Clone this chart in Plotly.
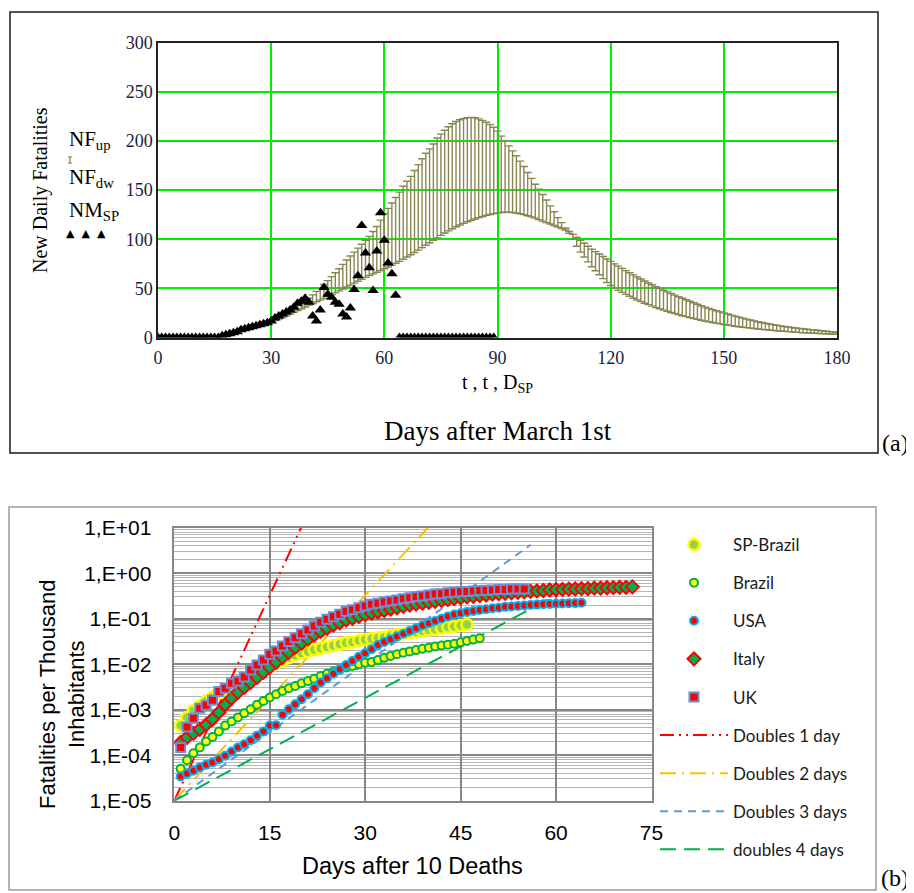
import plotly.graph_objects as go

# The page places the figure 8 px from the window's top-left corner,
# so the figure is sized to the remaining window area and all layout
# positions are given in window pixels and shifted by that offset.
OFF = 8
W, H = 914 - OFF, 893 - OFF


def px_x(p):
    return (p - OFF) / W


def px_y(p):
    return 1 - (p - OFF) / H


# ---------------- Panel (a) data ----------------
t_days = list(range(10, 181))
NF_up = [
    0.3, 0.5, 0.7, 1.0, 1.3, 1.7, 2.2, 2.8, 3.5, 4.3,
    5.1, 6.0, 7.0, 8.0, 9.0, 10.0, 11.1, 12.2, 13.4, 14.7,
    16.0, 17.8, 19.8, 22.0, 24.3, 26.8, 29.5, 32.3, 35.2, 38.0,
    40.0, 43.5, 47.0, 50.5, 54.0, 58.0, 62.0, 66.0, 70.0, 74.5,
    79.0, 83.0, 87.0, 91.0, 95.0, 99.0, 103.0, 108.0, 113.0, 119.5,
    126.0, 131.5, 137.0, 142.5, 148.0, 154.0, 159.0, 164.0, 170.0, 176.0,
    182.0, 187.5, 192.0, 197.0, 203.0, 207.0, 211.0, 214.5, 217.5, 219.8,
    221.6, 222.8, 223.6, 224.0, 223.6, 222.5, 221.0, 219.0, 216.8, 214.0,
    210.0, 205.0, 200.0, 195.0, 190.0, 185.0, 179.5, 174.0, 168.0, 162.0,
    156.0, 151.0, 145.5, 140.0, 134.0, 128.0, 122.0, 117.0, 111.5, 106.0,
    100.0, 93.0, 87.0, 82.0, 77.0, 72.0, 68.0, 64.0, 60.0, 56.0,
    53.0, 50.5, 48.0, 46.0, 44.0, 42.0, 40.0, 38.3, 36.6, 35.0,
    33.5, 32.0, 30.6, 29.3, 28.0, 26.8, 25.6, 24.5, 23.4, 22.3,
    21.3, 20.3, 19.4, 18.5, 17.7, 16.9, 16.1, 15.4, 14.7, 14.0,
    13.4, 12.8, 12.2, 11.6, 11.1, 10.6, 10.1, 9.6, 9.2, 8.8,
    8.4, 8.0, 7.7, 7.3, 7.0, 6.7, 6.4, 6.1, 5.8, 5.5,
    5.3, 5.0, 4.8, 4.6, 4.4, 4.2, 4.0, 3.8, 3.6, 3.5, 3.3,
]
NF_dw = [
    0.3, 0.5, 0.7, 1.0, 1.3, 1.7, 2.2, 2.8, 3.5, 4.3,
    5.1, 6.0, 7.0, 8.0, 9.0, 10.0, 11.1, 12.2, 13.4, 14.7,
    15.8, 17.3, 18.9, 20.5, 22.2, 24.0, 25.8, 27.6, 29.4, 31.2,
    33.0, 34.7, 36.4, 38.1, 39.9, 41.7, 43.6, 45.5, 47.5, 49.5,
    51.4, 53.4, 55.4, 57.4, 59.4, 61.3, 63.1, 64.8, 66.5, 68.2,
    70.0, 71.8, 73.7, 75.6, 77.5, 79.7, 82.0, 84.3, 86.6, 89.0,
    91.5, 94.0, 96.5, 99.0, 101.5, 104.0, 106.4, 108.6, 110.7, 112.7,
    114.5, 116.2, 117.8, 119.3, 120.7, 122.0, 123.2, 124.3, 125.3, 126.1,
    126.8, 127.3, 127.6, 127.6, 127.3, 126.7, 126.0, 125.1, 124.0, 122.8,
    121.5, 120.0, 118.5, 117.0, 115.5, 114.0, 112.5, 111.0, 109.5, 108.0,
    105.0, 102.0, 99.0, 96.0, 93.0, 90.0, 87.5, 85.0, 82.5, 80.0,
    77.5, 75.0, 72.7, 70.4, 68.1, 66.0, 63.8, 61.7, 59.6, 57.6,
    55.6, 53.7, 51.8, 50.0, 48.2, 46.5, 44.8, 43.2, 41.6, 40.0,
    38.5, 37.0, 35.4, 33.9, 32.4, 31.0, 29.7, 28.5, 27.3, 26.2,
    25.2, 24.0, 22.9, 21.8, 20.8, 19.8, 18.8, 17.9, 17.0, 16.2,
    15.4, 14.6, 13.9, 13.2, 12.5, 11.9, 11.3, 10.8, 10.3, 9.8,
    9.3, 8.9, 8.5, 8.1, 7.7, 7.3, 6.9, 6.5, 6.1, 5.8, 5.5,
]
D_SP = list(range(0, 90))
NM_SP = [
    0, 0, 0, 0, 0, 0, 0, 0, 0, 0,
    0, 0, 0, 0, 0, 0, 0, 2, 3, 4,
    5, 6, 8, 9, 10, 11, 12, 13, 14, 15,
    17, 20, 22, 24, 26, 28, 31, 35, 37, 40,
    36, 22, 17, 28, 51, 44, 41, 36, 34, 24,
    21, 30, 49, 63, 114, 86, 71, 48, 88, 127,
    99, 76, 65, 43, 0, 0, 0, 0, 0, 0,
    0, 0, 0, 0, 0, 0, 0, 0, 0, 0,
    0, 0, 0, 0, 0, 0, 0, 0, 0, 0,
]
a_xticks = [0, 30, 60, 90, 120, 150, 180]
a_yticks = [0, 50, 100, 150, 200, 250, 300]

# ---------------- Panel (b) data ----------------
sp_days = list(range(1, 47))
sp_brazil = [
    4.47e-4, 6.76e-4, 9.55e-4, 1.20e-3, 1.55e-3, 1.91e-3, 2.34e-3, 2.82e-3, 3.39e-3, 4.07e-3,
    4.90e-3, 5.75e-3, 6.76e-3, 7.94e-3, 9.12e-3, 1.05e-2, 1.20e-2, 1.38e-2, 1.55e-2, 1.74e-2,
    1.91e-2, 2.09e-2, 2.24e-2, 2.40e-2, 2.57e-2, 2.75e-2, 2.95e-2, 3.09e-2, 3.31e-2, 3.47e-2,
    3.63e-2, 3.80e-2, 3.98e-2, 4.27e-2, 4.47e-2, 4.68e-2, 4.90e-2, 5.13e-2, 5.37e-2, 5.62e-2,
    5.89e-2, 6.17e-2, 6.46e-2, 6.76e-2, 7.08e-2, 7.41e-2,
]
brazil_days = list(range(1, 49))
brazil = [
    5.01e-5, 7.76e-5, 1.10e-4, 1.48e-4, 2.00e-4, 2.51e-4, 3.31e-4, 4.47e-4, 5.50e-4, 6.76e-4,
    8.32e-4, 1.02e-3, 1.29e-3, 1.55e-3, 1.86e-3, 2.19e-3, 2.57e-3, 2.95e-3, 3.31e-3, 3.80e-3,
    4.27e-3, 4.79e-3, 5.50e-3, 6.17e-3, 6.92e-3, 7.59e-3, 8.51e-3, 9.12e-3, 1.00e-2, 1.07e-2,
    1.12e-2, 1.23e-2, 1.38e-2, 1.51e-2, 1.66e-2, 1.78e-2, 1.91e-2, 2.04e-2, 2.19e-2, 2.29e-2,
    2.46e-2, 2.57e-2, 2.69e-2, 2.82e-2, 3.02e-2, 3.24e-2, 3.47e-2, 3.72e-2,
]
usa_days = list(range(1, 65))
usa = [
    3.39e-5, 3.98e-5, 4.57e-5, 5.37e-5, 6.17e-5, 6.92e-5, 8.13e-5, 9.77e-5, 1.20e-4, 1.48e-4,
    1.74e-4, 2.14e-4, 2.69e-4, 3.31e-4, 4.47e-4, 4.57e-4, 7.76e-4, 1.02e-3, 1.32e-3, 1.70e-3,
    2.19e-3, 2.95e-3, 3.98e-3, 4.90e-3, 6.17e-3, 7.76e-3, 9.55e-3, 1.17e-2, 1.45e-2, 1.74e-2,
    2.14e-2, 2.63e-2, 3.09e-2, 3.55e-2, 4.07e-2, 4.68e-2, 5.37e-2, 6.17e-2, 7.08e-2, 7.94e-2,
    8.91e-2, 0.100, 0.112, 0.123, 0.132, 0.141, 0.148, 0.155, 0.162, 0.170,
    0.174, 0.182, 0.186, 0.191, 0.195, 0.200, 0.204, 0.209, 0.210, 0.214,
    0.215, 0.219, 0.220, 0.224,
]
italy_days = list(range(1, 73))
italy = [
    1.91e-4, 2.46e-4, 3.02e-4, 3.72e-4, 4.68e-4, 6.17e-4, 8.71e-4, 1.29e-3, 1.78e-3, 2.40e-3,
    3.09e-3, 3.98e-3, 5.13e-3, 6.61e-3, 8.51e-3, 1.10e-2, 1.41e-2, 1.82e-2, 2.34e-2, 2.88e-2,
    3.55e-2, 4.37e-2, 5.25e-2, 6.17e-2, 7.24e-2, 8.13e-2, 9.33e-2, 0.102, 0.112, 0.123,
    0.132, 0.141, 0.151, 0.162, 0.174, 0.186, 0.200, 0.209, 0.219, 0.229,
    0.240, 0.251, 0.263, 0.275, 0.288, 0.302, 0.309, 0.324, 0.331, 0.347,
    0.355, 0.363, 0.372, 0.380, 0.389, 0.398, 0.407, 0.417, 0.427, 0.437,
    0.440, 0.447, 0.450, 0.457, 0.460, 0.468, 0.470, 0.479, 0.480, 0.490,
    0.490, 0.501,
]
uk_days = list(range(1, 56))
uk = [
    1.48e-4, 4.17e-4, 6.46e-4, 1.07e-3, 1.26e-3, 1.62e-3, 2.51e-3, 2.95e-3, 3.80e-3, 4.27e-3,
    5.25e-3, 7.41e-3, 9.55e-3, 1.23e-2, 1.66e-2, 1.95e-2, 2.51e-2, 3.16e-2, 3.80e-2, 4.68e-2,
    5.62e-2, 6.92e-2, 8.32e-2, 9.77e-2, 0.110, 0.126, 0.145, 0.158, 0.174, 0.191,
    0.209, 0.219, 0.234, 0.245, 0.257, 0.275, 0.288, 0.302, 0.316, 0.331,
    0.347, 0.355, 0.372, 0.380, 0.389, 0.398, 0.407, 0.417, 0.420, 0.427,
    0.437, 0.440, 0.447, 0.450, 0.450,
]
# reference doubling lines (end points)
d1_x, d1_y = [0, 19.93], [1e-5, 10]
d2_x, d2_y = [0, 39.86], [1e-5, 10]
d3_x, d3_y = [0, 56.0], [1e-5, 4.2]
d4_x, d4_y = [0, 60.0], [1e-5, 0.33]

b_xticks = [0, 15, 30, 45, 60, 75]
b_yticks = [1e-5, 1e-4, 1e-3, 1e-2, 1e-1, 1e0, 1e1]
b_yticktext = ["1,E-05", "1,E-04", "1,E-03", "1,E-02", "1,E-01", "1,E+00", "1,E+01"]
b_minor = [m * 10.0 ** e for e in range(-5, 1) for m in range(2, 10)]

OLIVE = "#878753"
GREEN_GRID = "#00ee00"
SERIF = "Liberation Serif"
SANS = "Liberation Sans"

fig = go.Figure()

# ---- panel (a) traces ----
err_plus = [max(u - d, 0) for u, d in zip(NF_up, NF_dw)]
err_minus = [max(d - u, 0) for u, d in zip(NF_up, NF_dw)]
fig.add_trace(go.Scatter(
    x=t_days, y=NF_dw, mode="markers", xaxis="x", yaxis="y",
    marker=dict(size=2, color=OLIVE),
    error_y=dict(type="data", symmetric=False, array=err_plus, arrayminus=err_minus,
                 color=OLIVE, thickness=1.4, width=4),
    showlegend=False, hoverinfo="skip",
))
fig.add_trace(go.Scatter(
    x=D_SP, y=NM_SP, mode="markers", xaxis="x", yaxis="y",
    marker=dict(symbol="triangle-up", size=10, color="black"),
    showlegend=False, hoverinfo="skip",
))

# ---- panel (b) traces ----
line_specs = [
    ("Doubles 1 day", d1_x, d1_y, "#ff0000", "14px,5px,2px,5px,2px,5px", 6),
    ("Doubles 2 days", d2_x, d2_y, "#ffc000", "16px,6px,2px,6px", 7),
    ("Doubles 3 days", d3_x, d3_y, "#5b9bd5", "8px,6px", 8),
    ("doubles 4 days", d4_x, d4_y, "#00b050", "16px,8px", 9),
]
for name, xs, ys, col, dash, rank in line_specs:
    fig.add_trace(go.Scatter(
        x=xs, y=ys, mode="lines", name=name, xaxis="x2", yaxis="y2",
        line=dict(color=col, width=2, dash=dash),
        legendgroup=name, legendrank=rank, hoverinfo="skip",
    ))

marker_specs = [
    ("SP-Brazil", sp_days, sp_brazil, "circle", 11, "#92d050", "#ffff00", 2.5, 1),
    ("Brazil", brazil_days, brazil, "circle", 8, "#ffff00", "#00b050", 2, 2),
    ("USA", usa_days, usa, "circle", 8, "#ff0000", "#00b0f0", 2, 3),
    ("Italy", italy_days, italy, "diamond", 10, "#00b050", "#ff0000", 2, 4),
    ("UK", uk_days, uk, "square", 9, "#ff0000", "#6b8fd6", 2, 5),
]
for name, xs, ys, sym, size, fill, edge, lw, rank in marker_specs:
    fig.add_trace(go.Scatter(
        x=xs, y=ys, mode="markers", name=name, xaxis="x2", yaxis="y2",
        marker=dict(symbol=sym, size=size, color=fill, line=dict(color=edge, width=lw)),
        legendgroup=name, legendrank=rank, hoverinfo="skip",
    ))

annotations = []


def ann(text, x, y, size, family=SERIF, color="black", xanchor="center", yanchor="middle", angle=0):
    annotations.append(dict(
        text=text, x=px_x(x), y=px_y(y), xref="paper", yref="paper",
        xanchor=xanchor, yanchor=yanchor, showarrow=False, textangle=angle,
        font=dict(family=family, size=size, color=color),
    ))


# panel (a) texts
ann("New Daily Fatalities", 40, 190, 20, angle=-90)
ann("NF<sub>up</sub>", 67, 140, 21, xanchor="left")
ann("NF<sub>dw</sub>", 67, 178, 21, xanchor="left")
ann("NM<sub>SP</sub>", 67, 211, 21, xanchor="left")
ann("\u25b2  \u25b2  \u25b2", 64, 233, 11, family="DejaVu Sans", xanchor="left")
ann("t , t , D<sub>SP</sub>", 497.5, 383, 20)
ann("Days after March 1st", 497.5, 431, 27)
ann("(a)", 895, 443, 24)
# panel (b) texts
ann("Fatalities per Thousand<br>Inhabitants", 62, 694, 22, family=SANS, angle=-90)
ann("Days after 10 Deaths", 412, 866, 23.5, family=SANS)
ann("(b)", 895, 878, 24)

shapes = [
    # frame around panel (a)
    dict(type="rect", xref="paper", yref="paper", x0=px_x(10), x1=px_x(878),
         y0=px_y(453), y1=px_y(12), line=dict(color="#1a1a1a", width=1.5)),
    # frame around panel (b)
    dict(type="rect", xref="paper", yref="paper", x0=px_x(9), x1=px_x(876),
         y0=px_y(890), y1=px_y(507), line=dict(color="#9a9a9a", width=1.5)),
    # tiny error-bar key glyph of panel (a)
    dict(type="line", xref="paper", yref="paper", x0=px_x(70), x1=px_x(70),
         y0=px_y(163), y1=px_y(157), line=dict(color=OLIVE, width=1.2)),
    dict(type="line", xref="paper", yref="paper", x0=px_x(68), x1=px_x(72),
         y0=px_y(157), y1=px_y(157), line=dict(color=OLIVE, width=1.2)),
    dict(type="line", xref="paper", yref="paper", x0=px_x(68), x1=px_x(72),
         y0=px_y(163), y1=px_y(163), line=dict(color=OLIVE, width=1.2)),
]

fig.update_layout(
    template="none",
    width=W, height=H, autosize=False,
    margin=dict(l=0, r=0, t=0, b=0, pad=0, autoexpand=False),
    paper_bgcolor="white", plot_bgcolor="white",
    showlegend=True,
    legend=dict(
        x=px_x(655), y=px_y(527), xanchor="left", yanchor="top",
        font=dict(family="Lato", size=17, color="#1a1a1a"),
        tracegroupgap=13, itemwidth=68, bgcolor="rgba(0,0,0,0)",
        traceorder="grouped",
    ),
    xaxis=dict(
        domain=[px_x(158), px_x(837)], range=[0, 180], tickvals=a_xticks,
        showgrid=True, gridcolor=GREEN_GRID, gridwidth=1.5, zeroline=False,
        showline=True, linecolor="#222222", linewidth=1.5, mirror=True,
        ticks="outside", ticklen=3, tickcolor="rgba(0,0,0,0)", automargin=False,
        tickfont=dict(family=SERIF, size=18, color="#1c1c38"), anchor="y",
    ),
    yaxis=dict(
        domain=[px_y(337.6), px_y(42.7)], range=[0, 300], tickvals=a_yticks,
        showgrid=True, gridcolor=GREEN_GRID, gridwidth=1.5, zeroline=False,
        showline=True, linecolor="#222222", linewidth=1.5, mirror=True, automargin=False,
        ticks="", tickfont=dict(family=SERIF, size=18, color="#1c1c38"), anchor="x",
    ),
    xaxis2=dict(
        domain=[px_x(174.3), px_x(651.5)], range=[0, 75], tickvals=b_xticks,
        showgrid=True, gridcolor="#878787", gridwidth=2, zeroline=False,
        showline=True, linecolor="#878787", linewidth=1.5, mirror=True,
        ticks="outside", ticklen=12, tickcolor="rgba(0,0,0,0)", automargin=False,
        tickfont=dict(family=SANS, size=21, color="black"), anchor="y2",
    ),
    yaxis2=dict(
        domain=[px_y(800.7), px_y(527.7)], type="log", range=[-5, 1],
        tickvals=b_yticks, ticktext=b_yticktext,
        showgrid=True, gridcolor="#878787", gridwidth=2, zeroline=False,
        showline=True, linecolor="#878787", linewidth=1.5, mirror=True,
        ticks="outside", ticklen=17, tickcolor="rgba(0,0,0,0)", automargin=False,
        tickfont=dict(family=SANS, size=21, color="black"), anchor="x2",
        minor=dict(tickvals=b_minor, showgrid=True, gridcolor="#b5b5b5", gridwidth=1.3, ticks=""),
    ),
    annotations=annotations,
    shapes=shapes,
)

fig.write_html("out.html")
